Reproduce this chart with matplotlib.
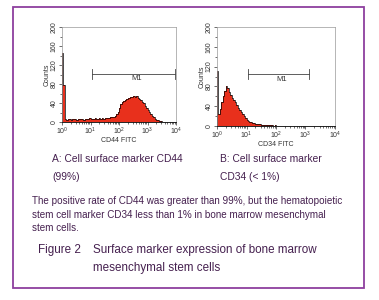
import numpy as np
import matplotlib.pyplot as plt
from matplotlib.patches import Rectangle
from matplotlib.ticker import MultipleLocator, LogLocator, NullFormatter

plt.rcParams['font.family'] = ['Liberation Sans', 'DejaVu Sans']

# histogram counts, 80 channels of 0.05 decade from 10^0 to 10^4
cd44_counts = [145, 78,
               6, 5, 7, 6, 5, 7, 6, 6, 5, 7, 6, 7, 6, 5, 6, 7, 6, 8, 7, 6,
               7, 8, 7, 6, 8, 7, 8, 7, 8, 9, 8, 9, 10, 11,
               10, 12, 16, 22, 30, 37, 42, 45, 47, 49, 51, 50, 53, 52, 55, 53,
               54, 51, 48, 46, 42, 39, 34, 30, 26, 21, 17, 13, 10, 7, 5, 4, 3, 2,
               1, 1, 0, 0, 0, 0, 0, 0, 0, 0]
cd34_counts = [111, 25, 35, 48, 60, 70, 80, 76, 68, 62, 57, 53, 48, 42, 37, 33,
               28, 24, 20, 16, 13, 11, 9, 8, 7, 6, 5, 5, 4, 4, 3, 3, 3, 2, 2, 2,
               2, 2, 1, 2, 1, 1, 1, 1, 0, 1] + [0] * 34
edges = 10 ** np.linspace(0, 4, 81)

# M1 gate (log10 start, log10 end, counts level)
cd44_gate = (1.06, 3.95, 101)
cd34_gate = (1.05, 3.13, 105)

text_col = '#45204f'

fig = plt.figure(figsize=(3.79, 3.0), dpi=100)
fig.patches.append(Rectangle((13 / 379, 12 / 300), 351 / 379, 281 / 300,
                             transform=fig.transFigure, fill=False,
                             edgecolor='#8e3f9e', linewidth=1.3))


def hist_panel(rect, counts, gate, xlabel):
    ax = fig.add_axes(rect)
    ax.stairs(counts, edges, fill=True, color='#e8301c', linewidth=0)
    ax.stairs(counts, edges, color='black', linewidth=0.5)
    ax.set_xscale('log')
    ax.set_xlim(1, 1e4)
    ax.set_ylim(0, 200)
    ax.yaxis.set_major_locator(MultipleLocator(40))
    ax.yaxis.set_minor_locator(MultipleLocator(20))
    ax.xaxis.set_major_locator(LogLocator(base=10, numticks=5))
    ax.xaxis.set_minor_locator(LogLocator(base=10, subs=np.arange(2, 10), numticks=10))
    ax.xaxis.set_minor_formatter(NullFormatter())
    ax.tick_params(labelsize=5, length=2, width=0.5, pad=1, colors='#333333')
    ax.tick_params(which='minor', length=1.2, width=0.4)
    for lab in ax.get_yticklabels():
        lab.set_rotation(90)
        lab.set_va('center')
    for s in ['top', 'right', 'left']:
        ax.spines[s].set_color('#999999')
        ax.spines[s].set_linewidth(0.5)
    ax.spines['bottom'].set_linewidth(0.6)
    ax.set_xlabel(xlabel, fontsize=5, labelpad=0, color='#333333')
    ax.set_ylabel('Counts', fontsize=5, labelpad=0, color='#333333')
    x0, x1, y = 10 ** gate[0], 10 ** gate[1], gate[2]
    ax.plot([x0, x1], [y, y], color='#444444', linewidth=0.6)
    ax.plot([x0, x0], [y - 10, y + 10], color='#444444', linewidth=0.6)
    ax.plot([x1, x1], [y - 10, y + 10], color='#444444', linewidth=0.6)
    xm = 10 ** ((gate[0] + gate[1]) / 2 + 0.1)
    ax.text(xm, y - 3, 'M1', fontsize=5.5, ha='center', va='top', color='#333333')
    return ax


hist_panel([62 / 379, 178 / 300, 114 / 379, 95 / 300], cd44_counts, cd44_gate, 'CD44 FITC')
hist_panel([217 / 379, 174 / 300, 118 / 379, 99 / 300], cd34_counts, cd34_gate, 'CD34 FITC')

fig.text(52 / 379, 1 - 159 / 300, 'A: Cell surface marker CD44', fontsize=7.4,
         color=text_col, va='center')
fig.text(52 / 379, 1 - 177 / 300, '(99%)', fontsize=7.4, color=text_col, va='center')
fig.text(220 / 379, 1 - 159 / 300, 'B: Cell surface marker', fontsize=7.4,
         color=text_col, va='center')
fig.text(220 / 379, 1 - 177 / 300, 'CD34 (< 1%)', fontsize=7.4, color=text_col, va='center')

para = ['The positive rate of CD44 was greater than 99%, but the hematopoietic',
        'stem cell marker CD34 less than 1% in bone marrow mesenchymal',
        'stem cells.']
for i, line in enumerate(para):
    fig.text(32 / 379, 1 - (201 + 13.5 * i) / 300, line, fontsize=7.1,
             color=text_col, va='center')

fig.text(38 / 379, 1 - 250 / 300, 'Figure 2', fontsize=8.4, color=text_col, va='center')
fig.text(93 / 379, 1 - 250 / 300, 'Surface marker expression of bone marrow',
         fontsize=8.4, color=text_col, va='center')
fig.text(93 / 379, 1 - 268 / 300, 'mesenchymal stem cells', fontsize=8.4,
         color=text_col, va='center')

fig.savefig('out.png', dpi=100)
